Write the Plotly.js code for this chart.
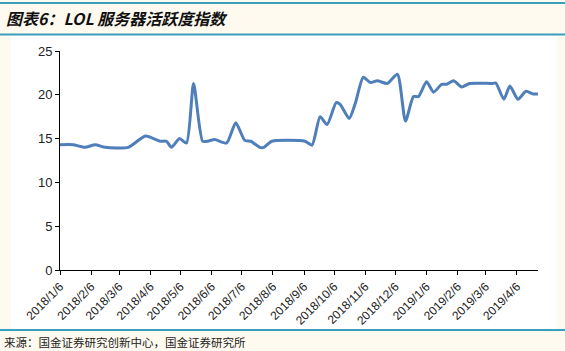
<!DOCTYPE html>
<html>
<head>
<meta charset="utf-8">
<script src="https://cdn.plot.ly/plotly-3.0.1.min.js"></script>
<style>html,body{margin:0;padding:0;background:#FEFAEF;}#chart{width:565px;height:351px;}</style>
</head>
<body>
<div id="chart"></div>
<script>
const dates = ["2018-01-06","2018-01-19","2018-01-31","2018-02-10","2018-02-20","2018-03-15","2018-04-01","2018-04-16","2018-04-22","2018-04-27","2018-05-05","2018-05-12","2018-05-19","2018-05-28","2018-06-02","2018-06-09","2018-06-21","2018-06-30","2018-07-09","2018-07-15","2018-07-24","2018-07-28","2018-08-05","2018-09-07","2018-09-14","2018-09-22","2018-09-29","2018-10-08","2018-10-12","2018-10-21","2018-10-27","2018-11-04","2018-11-11","2018-11-18","2018-11-28","2018-12-08","2018-12-16","2018-12-24","2018-12-29","2019-01-06","2019-01-13","2019-01-21","2019-01-26","2019-02-02","2019-02-10","2019-02-18","2019-03-13","2019-03-16","2019-03-24","2019-03-30","2019-04-07","2019-04-15","2019-04-22","2019-04-27"];
const activity = [14.3,14.3,14.0,14.3,14.0,14.0,15.3,14.7,14.7,14.0,15.0,14.5,21.3,14.7,14.7,14.9,14.5,16.8,14.8,14.7,14.0,14.0,14.7,14.7,14.25,17.5,16.6,19.1,18.9,17.3,19.0,22.0,21.4,21.6,21.3,22.35,17.0,19.8,19.8,21.5,20.3,21.2,21.2,21.6,20.9,21.3,21.3,21.35,19.5,21.0,19.5,20.4,20.1,20.1];
const tickDates = ["2018-01-06","2018-02-06","2018-03-06","2018-04-06","2018-05-06","2018-06-06","2018-07-06","2018-08-06","2018-09-06","2018-10-06","2018-11-06","2018-12-06","2019-01-06","2019-02-06","2019-03-06","2019-04-06"];
const tickLabels = ["2018/1/6","2018/2/6","2018/3/6","2018/4/6","2018/5/6","2018/6/6","2018/7/6","2018/8/6","2018/9/6","2018/10/6","2018/11/6","2018/12/6","2019/1/6","2019/2/6","2019/3/6","2019/4/6"];
const titleText = "图表6：LOL 服务器活跃度指数";
const sourceText = "来源：国金证券研究创新中心，国金证券研究所";

const W = 565, H = 351, L = 60, R = 27, T = 51, B = 81;
const pw = W - L - R, ph = H - T - B;
const px = x => (x - L) / pw;
const py = y => (H - B - y) / ph;
const teal = "#3A9FBF";

const trace = {
  x: dates, y: activity, type: "scatter", mode: "lines",
  line: {color: "#4F7FBA", width: 3, shape: "spline", smoothing: 0.6},
  hoverinfo: "skip"
};

const layout = {
  width: W, height: H,
  margin: {l: L, r: R, t: T, b: B, pad: 0},
  paper_bgcolor: "#FEFAEF", plot_bgcolor: "rgba(0,0,0,0)",
  showlegend: false,
  font: {family: "Liberation Sans, Arial, sans-serif", color: "#222", size: 12},
  xaxis: {
    type: "date", range: ["2018-01-06", "2019-04-27"],
    tickmode: "array", tickvals: tickDates, ticktext: tickLabels,
    tickangle: -45, ticks: "outside", ticklen: 4, tickcolor: "#000",
    showline: true, linecolor: "#000", linewidth: 1,
    showgrid: false, zeroline: false,
    tickfont: {size: 12, color: "#222"}
  },
  yaxis: {
    range: [0, 25], tickmode: "linear", tick0: 0, dtick: 5,
    ticks: "outside", ticklen: 4, tickcolor: "#000",
    showline: true, linecolor: "#000", linewidth: 1,
    showgrid: false, zeroline: false,
    tickfont: {size: 13, color: "#222"}
  },
  shapes: [
    {type: "rect", xref: "paper", yref: "paper", x0: px(11), x1: px(557), y0: py(330), y1: py(36),
     fillcolor: "#FFFFFF", line: {width: 0}, layer: "below"},
    {type: "line", xref: "paper", yref: "paper", x0: px(0), x1: px(565), y0: py(3), y1: py(3),
     line: {color: teal, width: 2}},
    {type: "line", xref: "paper", yref: "paper", x0: px(0), x1: px(565), y0: py(34.5), y1: py(34.5),
     line: {color: teal, width: 2}},
    {type: "line", xref: "paper", yref: "paper", x0: px(0), x1: px(565), y0: py(330), y1: py(330),
     line: {color: teal, width: 2}}
  ],
  annotations: [
    {text: "<b><i>" + titleText + "</i></b>", xref: "paper", yref: "paper", x: px(4), y: py(18),
     xanchor: "left", yanchor: "middle", showarrow: false,
     font: {family: "Noto Sans CJK SC, sans-serif", size: 16, color: "#111"}},
    {text: sourceText, xref: "paper", yref: "paper", x: px(2), y: py(342),
     xanchor: "left", yanchor: "middle", showarrow: false,
     font: {family: "Noto Sans CJK SC, sans-serif", size: 11.5, color: "#222"}}
  ]
};

Plotly.newPlot("chart", [trace], layout, {staticPlot: true, displayModeBar: false});
</script>
</body>
</html>
